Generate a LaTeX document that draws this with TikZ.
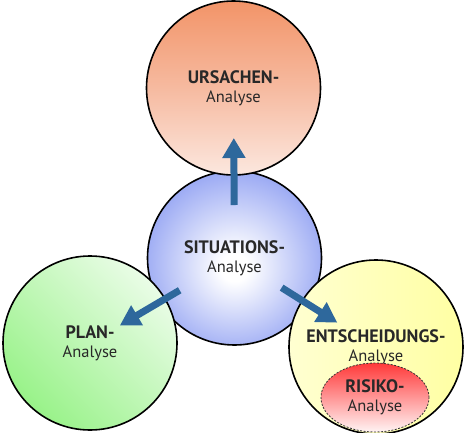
\documentclass[tikz,border=0pt]{standalone}
\usepackage{fontspec}
\setmainfont{PT Sans}
\usetikzlibrary{arrows.meta,shapes.geometric}

\definecolor{urstop}{RGB}{238,110,48}
\definecolor{ursmid}{RGB}{246,186,160}
\definecolor{sitblue}{RGB}{104,126,238}
\definecolor{plangreen}{RGB}{136,240,118}
\definecolor{entleft}{RGB}{255,255,232}
\definecolor{entright}{RGB}{255,255,140}
\definecolor{riskred}{RGB}{255,20,20}
\definecolor{pfeilblau}{RGB}{46,104,156}
\definecolor{textgrau}{RGB}{40,40,40}

\pgfdeclareverticalshading{ursshade}{100bp}{color(0bp)=(white); color(12bp)=(white); color(50bp)=(ursmid); color(100bp)=(urstop)}
\pgfdeclareradialshading{sitshade}{\pgfpoint{0bp}{-3bp}}{color(0bp)=(white); color(4bp)=(white); color(38bp)=(sitblue); color(50bp)=(sitblue)}
\pgfdeclareverticalshading{planshade}{100bp}{color(0bp)=(plangreen); color(15bp)=(plangreen); color(88bp)=(white); color(100bp)=(white)}
\pgfdeclarehorizontalshading{entshade}{100bp}{color(0bp)=(entleft); color(100bp)=(entright)}
\pgfdeclareverticalshading{riskshade}{100bp}{color(0bp)=(white); color(22bp)=(white); color(85bp)=(riskred); color(100bp)=(riskred)}

\newcommand{\analabel}[1]{{\fontsize{18}{19}\selectfont\bfseries #1}\\Analyse}

\tikzset{
	kreis/.style={circle, draw=black, line width=1.6pt, minimum size=174pt, inner sep=0pt,
		align=center, text=textgrau, font=\fontsize{16.5}{19}\selectfont},
	pfeil/.style={draw=pfeilblau, line width=7pt, -{Triangle[width=22pt,length=20pt]}}
}

\begin{document}
\begin{tikzpicture}[x=1pt,y=-1pt]
	\useasboundingbox (0,0) rectangle (464,432);
	
	\node[kreis, shading=sitshade] (sit) at (234.5,258) {\analabel{SITUATIONS-}};
	\node[kreis, shading=ursshade] (urs) at (233.5,88) {\analabel{URSACHEN-}};
	\node[kreis, shading=planshade, shading angle=-45] (plan) at (90,343) {\analabel{PLAN-}};
	\node[kreis, shading=entshade] (ent) at (376,347) {\analabel{ENTSCHEIDUNGS-}};
	\node[ellipse, draw=black!80, line width=0.8pt, dash pattern=on 2pt off 1.5pt,
		minimum width=108pt, minimum height=69pt, inner sep=0pt, shading=riskshade,
		align=center, text=textgrau, font=\fontsize{16.5}{19}\selectfont] (risk) at (375,397.5) {\analabel{RISIKO-}};
	
	\draw[pfeil, shorten <=53pt, shorten >=50pt] (sit.center) -- (urs.center);
	\draw[pfeil, shorten <=63.6pt, shorten >=34.6pt] (sit.center) -- (plan.center);
	\draw[pfeil, shorten <=55.7pt, shorten >=45.7pt] (sit.center) -- (ent.center);
\end{tikzpicture}
\end{document}
